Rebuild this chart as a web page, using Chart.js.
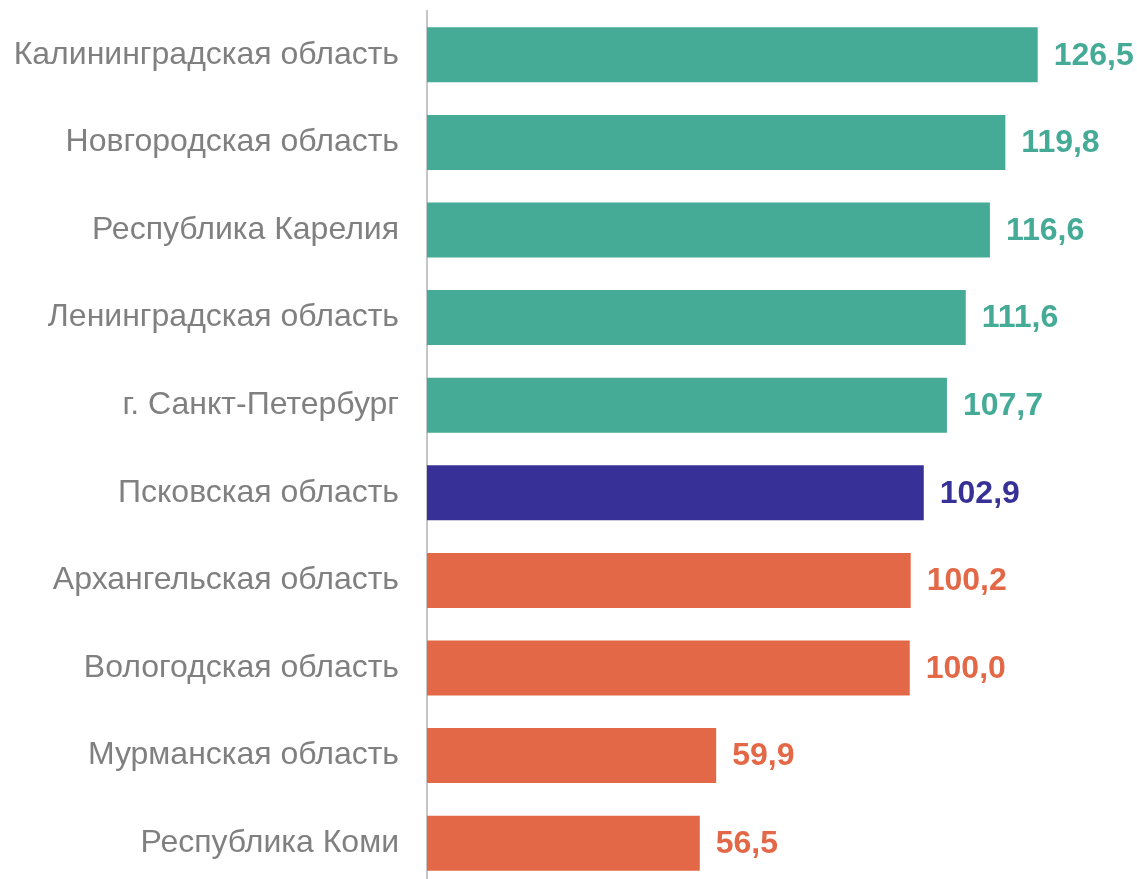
<!DOCTYPE html>
<html><head><meta charset="utf-8">
<script src="https://cdn.jsdelivr.net/npm/chart.js@4/dist/chart.umd.min.js"></script>
<style>html,body{margin:0;padding:0;background:#fff;overflow:hidden;width:1137px;height:879px}#wrap{position:absolute;left:0;top:0;width:1137px;height:900px}</style>
</head><body>
<div id="wrap"><canvas id="c" width="1137" height="900"></canvas></div>
<script>
const categories = ["Калининградская область","Новгородская область","Республика Карелия","Ленинградская область","г. Санкт-Петербург","Псковская область","Архангельская область","Вологодская область","Мурманская область","Республика Коми"];
const values = [126.5,119.8,116.6,111.6,107.7,102.9,100.2,100.0,59.9,56.5];
const groups = ["high","high","high","high","high","self","low","low","low","low"];
const palette = {high:"#45AB97", self:"#373096", low:"#E36847"};
const colors = groups.map(g => palette[g]);

const labelPlugin = {
  id:'valLabels',
  afterDatasetsDraw(chart){
    const ctx = chart.ctx;
    const meta = chart.getDatasetMeta(0);
    ctx.save();
    ctx.font = 'bold 32px "Liberation Sans", Arial, sans-serif';
    ctx.textAlign = 'left';
    ctx.textBaseline = 'middle';
    meta.data.forEach((bar,i)=>{
      ctx.fillStyle = colors[i];
      ctx.fillText(values[i].toFixed(1).replace('.',','), bar.x + 16, bar.y + 1);
    });
    ctx.restore();
  }
};

new Chart(document.getElementById('c'), {
  type:'bar',
  data:{labels:categories, datasets:[{data:values, backgroundColor:colors, borderWidth:0, barPercentage:0.628, categoryPercentage:1}]},
  options:{
    indexAxis:'y', responsive:false, animation:false,
    layout:{padding:{top:11, bottom:13, right:10, left:0}},
    plugins:{legend:{display:false}, tooltip:{enabled:false}},
    scales:{
      x:{display:false, min:0, max:145},
      y:{
        grid:{display:false, drawTicks:false},
        border:{display:true, color:'#C6C6C6', width:2},
        ticks:{color:'#808080', padding:28, font:{family:'"Liberation Sans", Arial, sans-serif', size:32}},
        afterFit(s){ s.width = 427; s.paddingTop = 0; s.paddingBottom = 0; }
      }
    }
  },
  plugins:[labelPlugin]
});
</script>
</body></html>
